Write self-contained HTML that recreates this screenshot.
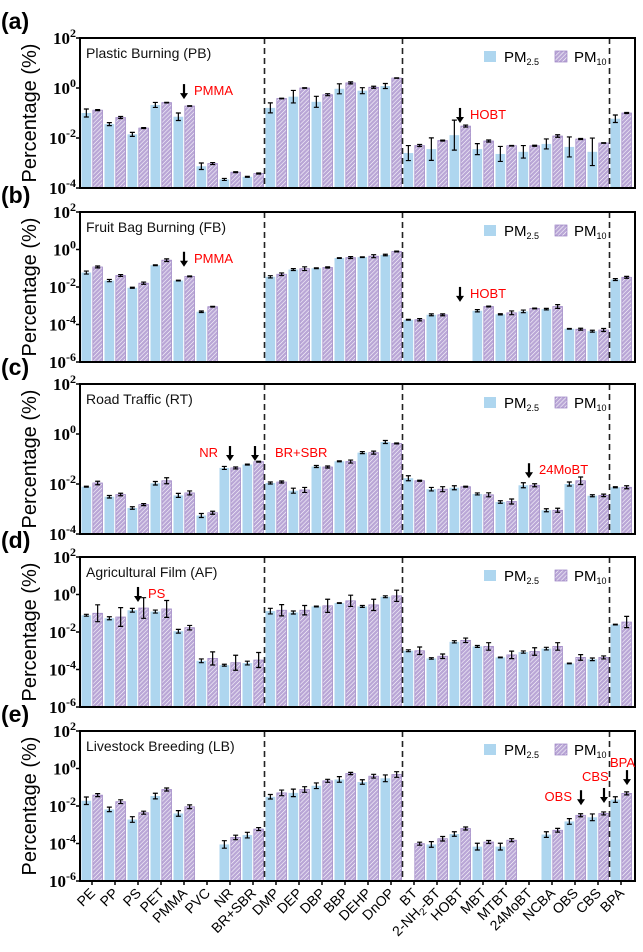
<!DOCTYPE html>
<html><head><meta charset="utf-8"><style>
body{margin:0;background:#fff;}
svg{display:block;font-family:"Liberation Sans",sans-serif;}
</style></head><body>
<svg id="chart" width="643" height="952" viewBox="0 0 643 952" xmlns="http://www.w3.org/2000/svg">
<defs>
<pattern id="hatch" patternUnits="userSpaceOnUse" width="3" height="3" patternTransform="rotate(45)">
<rect width="3" height="3" fill="#b9a6d6"/><line x1="0" y1="0" x2="0" y2="3" stroke="#fff" stroke-width="1.1"/>
</pattern>
</defs>
</svg>
<script>
const categories=["PE","PP","PS","PET","PMMA","PVC","NR","BR+SBR","DMP","DEP","DBP","BBP","DEHP","DnOP","BT","2-NH2-BT","HOBT","MBT","MTBT","24MoBT","NCBA","OBS","CBS","BPA"];
const panelTitles=["Plastic Burning (PB)","Fruit Bag Burning (FB)","Road Traffic (RT)","Agricultural Film (AF)","Livestock Breeding (LB)"];
const panelLetters=["(a)","(b)","(c)","(d)","(e)"];
const panelMinExp=[-4,-6,-4,-6,-6];
const tickExps=[2,0,-2,-4,-6];
const pbPm25=[0.1,0.036,0.014,0.21,0.071,0.00074,0.00022,0.00028,0.16,0.45,0.28,0.93,0.78,1.2,0.0025,0.0036,0.013,0.0036,0.0023,0.0028,0.0058,0.0044,0.0028,0.059];
const pbPm10=[0.13,0.066,0.025,0.26,0.19,0.00095,0.00043,0.00038,0.38,1.0,0.54,1.6,1.07,2.5,0.005,0.0079,0.03,0.0076,0.0049,0.0049,0.012,0.0091,0.0063,0.1];
const pbErr25=[0.16,0.06,0.08,0.1,0.15,0.13,0.04,0.02,0.2,0.25,0.22,0.2,0.12,0.1,0.3,0.45,0.6,0.22,0.3,0.25,0.2,0.4,0.55,0.15];
const pbErr10=[0.02,0.04,0.02,0.01,0.01,0.04,0.02,0.02,0.01,0.01,0.04,0.04,0.04,0.01,0.04,0.02,0.04,0.04,0.01,0.02,0.05,0.02,0.01,0.02];
const fbPm25=[0.059,0.022,0.0091,0.145,0.022,0.00048,null,null,0.035,0.085,0.1,0.35,0.39,0.51,0.00018,0.00033,null,0.00054,0.00035,0.0005,0.00066,0.000059,0.000044,0.025];
const fbPm10=[0.117,0.041,0.016,0.27,0.037,0.00089,null,null,0.048,0.095,0.11,0.37,0.44,0.78,0.00018,0.00033,null,0.00091,0.00042,0.00072,0.00091,0.000056,0.000051,0.033];
const fbErr25=[0.08,0.06,0.03,0.02,0.02,0.04,0,0,0.06,0.05,0.02,0.02,0.02,0.04,0.02,0.05,0,0.06,0.03,0.07,0.04,0.02,0.05,0.05];
const fbErr10=[0.05,0.05,0.06,0.07,0.02,0.02,0,0,0.07,0.1,0.03,0.05,0.08,0.02,0.06,0.05,0,0.02,0.1,0.02,0.1,0.05,0.08,0.05];
const rtPm25=[0.0078,0.0031,0.0011,0.0107,0.0035,0.00055,0.044,0.06,0.011,0.0054,0.05,0.081,0.18,0.48,0.017,0.0062,0.0071,0.004,0.0019,0.0089,0.00089,0.01,0.0034,0.0074];
const rtPm10=[0.011,0.0038,0.0015,0.0135,0.0044,0.00071,0.044,0.078,0.012,0.0058,0.048,0.079,0.18,0.42,0.0135,0.0062,0.0078,0.0037,0.002,0.0089,0.00089,0.0135,0.0035,0.0074];
const rtErr25=[0.02,0.05,0.05,0.07,0.08,0.08,0.06,0.02,0.04,0.1,0.04,0.02,0.04,0.06,0.1,0.07,0.08,0.04,0.05,0.1,0.06,0.08,0.04,0.02];
const rtErr10=[0.07,0.05,0.04,0.12,0.08,0.06,0.04,0.02,0.04,0.1,0.04,0.06,0.06,0.02,0.02,0.1,0.02,0.08,0.1,0.06,0.08,0.15,0.05,0.06];
const afPm25=[0.078,0.054,0.145,0.123,0.011,0.00029,0.00017,0.00022,0.13,0.11,0.23,0.35,0.23,0.76,0.001,0.00039,0.003,0.0017,0.00044,0.00085,0.0013,0.00021,0.00035,0.025];
const afPm10=[0.1,0.063,0.19,0.17,0.017,0.00039,0.00023,0.00032,0.145,0.145,0.25,0.46,0.28,0.85,0.001,0.00051,0.0036,0.0017,0.0006,0.00091,0.0017,0.00044,0.00044,0.034];
const afErr25=[0.05,0.08,0.1,0.08,0.1,0.1,0.05,0.1,0.15,0.08,0.02,0.02,0.05,0.05,0.05,0.04,0.06,0.05,0.02,0.06,0.07,0.02,0.07,0.02];
const afErr10=[0.45,0.5,0.55,0.45,0.12,0.35,0.4,0.4,0.3,0.25,0.35,0.3,0.3,0.3,0.2,0.12,0.12,0.2,0.2,0.2,0.2,0.15,0.08,0.3];
const lbPm25=[0.019,0.0066,0.0019,0.034,0.004,null,0.000089,0.00028,0.031,0.05,0.12,0.26,0.19,0.3,null,0.000089,0.00032,0.000068,0.000068,null,0.0003,0.0015,0.0025,0.022];
const lbPm10=[0.038,0.017,0.0044,0.076,0.0091,null,0.00021,0.00059,0.05,0.076,0.22,0.54,0.39,0.48,0.000098,0.00018,0.00063,0.00012,0.00015,null,0.00051,0.0032,0.004,0.047];
const lbErr25=[0.2,0.12,0.15,0.15,0.15,0,0.2,0.15,0.12,0.2,0.15,0.15,0.12,0.18,0,0.15,0.12,0.18,0.18,0,0.15,0.15,0.18,0.15];
const lbErr10=[0.08,0.1,0.08,0.08,0.1,0,0.12,0.08,0.15,0.15,0.08,0.06,0.1,0.15,0.08,0.12,0.08,0.08,0.08,0,0.1,0.08,0.08,0.08];
const pm25Series=[pbPm25,fbPm25,rtPm25,afPm25,lbPm25];
const pm10Series=[pbPm10,fbPm10,rtPm10,afPm10,lbPm10];
const err25Series=[pbErr25,fbErr25,rtErr25,afErr25,lbErr25];
const err10Series=[pbErr10,fbErr10,rtErr10,afErr10,lbErr10];
const annotations=[
 [{cat:"PMMA",text:"PMMA",val:0.36,side:"right"},{cat:"HOBT",text:"HOBT",val:0.04,side:"right"}],
 [{cat:"PMMA",text:"PMMA",val:0.12,side:"right"},{cat:"HOBT",text:"HOBT",val:0.0016,side:"right"}],
 [{cat:"NR",text:"NR",val:0.083,side:"left"},{cat:"BR+SBR",text:"BR+SBR",val:0.083,side:"rightfar"},{cat:"24MoBT",text:"24MoBT",val:0.017,side:"right"}],
 [{cat:"PS",text:"PS",val:0.4,side:"right"}],
 [{cat:"OBS",text:"OBS",val:0.011,side:"left"},{cat:"CBS",text:"CBS",val:0.0145,side:"upleft"},{cat:"BPA",text:"BPA",val:0.13,side:"up"}]
];

const NS="http://www.w3.org/2000/svg";
const svg=document.getElementById('chart');
function mk(tag,attrs,parent){const e=document.createElementNS(NS,tag);for(const k in attrs)e.setAttribute(k,attrs[k]);(parent||svg).appendChild(e);return e;}
const plotL=80,plotR=635,catW=23,firstX=92;
const panelTops=[38,212,384,557,731];
const panelH=150;
function xCat(i){return firstX+catW*i;}
function yScale(p){const top=panelTops[p],mn=panelMinExp[p];return v=>top+(2-Math.log10(v))/(2-mn)*panelH;}

for(let p=0;p<5;p++){
 const top=panelTops[p],bot=top+panelH,ys=yScale(p);
 const g=mk('g',{});
 
 
 for(let i=0;i<categories.length;i++){
  const cx=xCat(i);
  const s=[[pm25Series[p][i],err25Series[p][i],cx-10.5,'#aed6ef'],[pm10Series[p][i],err10Series[p][i],cx+0.8,'url(#hatch)']];
  s.forEach((d,k)=>{
   if(d[0]==null)return;
   const y=ys(d[0]);
   const r=mk('rect',{x:d[2],y:y,width:9.7,height:bot-y,fill:d[3]},g);
   if(k==1){r.setAttribute('stroke','#9a82c2');r.setAttribute('stroke-width','0.7');}
   
   
   const ex=d[2]+4.85;
   const ylo=Math.min(bot,ys(Math.pow(10,Math.log10(d[0])-d[1]))),yhi=ys(Math.pow(10,Math.log10(d[0])+d[1]));
   const eb=mk('path',{d:`M${ex},${ylo}V${yhi}M${ex-2.5},${ylo}H${ex+2.5}M${ex-2.5},${yhi}H${ex+2.5}`,stroke:'#000','stroke-width':1.2,fill:'none'},g);
   
   
  });
 }
 [7.5,13.5,22.5].forEach(b=>{
  const l=mk('line',{x1:xCat(b),x2:xCat(b),y1:top,y2:bot,stroke:'#222','stroke-width':1.6,'stroke-dasharray':'6,4'},g);
  
  
 });
 const fr=mk('rect',{x:plotL,y:top,width:plotR-plotL,height:panelH,fill:'none',stroke:'#000','stroke-width':2},g);
 
 
 tickExps.filter(e=>e>=panelMinExp[p]).forEach(e=>{
  const y=ys(Math.pow(10,e));
  mk('line',{x1:plotL-4,x2:plotL,y1:y,y2:y,stroke:'#000','stroke-width':1.5},g);
  const t=mk('text',{x:76,y:y+6,'text-anchor':'end','font-family':'"Liberation Serif",serif','font-weight':'bold','font-size':17},g);
  
  
  t.appendChild(document.createTextNode('10'));
  const s=mk('tspan',{'font-size':12,dy:-7},t);s.textContent=String(e);
 });
 const yt=mk('text',{x:0,y:0,transform:`translate(36,${top+panelH/2}) rotate(-90)`,'text-anchor':'middle','font-size':20},g);
 yt.textContent='Percentage (%)';
 
 
 const pl=mk('text',{x:1,y:top-9,'font-size':23,'font-weight':'bold'},g);
 pl.textContent=panelLetters[p];
 
 
 const tt=mk('text',{x:86,y:top+20,'font-size':14,'fill':'#111'},g);
 tt.textContent=panelTitles[p];
 
 
 const lg=mk('g',{},g);
 
 
 mk('rect',{x:484,y:top+13,width:12,height:11,fill:'#aed6ef'},lg);
 const l1=mk('text',{x:504,y:top+24,'font-size':15},lg);l1.textContent='PM';
 const s1=mk('tspan',{'font-size':9,dy:3},l1);s1.textContent='2.5';
 mk('rect',{x:555,y:top+13,width:12,height:11,fill:'url(#hatch)',stroke:'#9a82c2','stroke-width':0.7},lg);
 const l2=mk('text',{x:574,y:top+24,'font-size':15},lg);l2.textContent='PM';
 const s2=mk('tspan',{'font-size':9,dy:3},l2);s2.textContent='10';
 annotations[p].forEach(a=>{
  const i=categories.indexOf(a.cat);
  let ax=xCat(i);
  if(a.cat==='BR+SBR'){ax=xCat(i)+2;}
  if(a.cat==='OBS'||a.cat==='CBS'||a.cat==='BPA'){ax=xCat(i)+6;}
  const ay=ys(a.val);
  const ag=mk('g',{},g);
  
  
  mk('line',{x1:ax,x2:ax,y1:ay-15,y2:ay-5,stroke:'#000','stroke-width':2.2},ag);
  mk('path',{d:`M${ax-4},${ay-6}L${ax+4},${ay-6}L${ax},${ay}Z`,fill:'#000'},ag);
  let tx,ty=ay-4,anc='start';
  if(a.side==='right'){tx=ax+10;}
  else if(a.side==='rightfar'){tx=ax+20;}
  else if(a.side==='left'){tx=ax-9;anc='end';}
  else if(a.side==='upleft'){tx=ax-22;ty=ay-22;}
  else {tx=ax-17;ty=ay-18;}
  if(a.cat==='NR'){tx=ax-12;}
  const t=mk('text',{x:tx,y:ty,'font-size':13,fill:'#f00','text-anchor':anc},ag);
  t.textContent=a.text;
 });
}
const bot=panelTops[4]+panelH;
categories.forEach((c,i)=>{
 const x=xCat(i);
 mk('line',{x1:x,x2:x,y1:bot,y2:bot+4,stroke:'#000','stroke-width':1.5});
 const t=mk('text',{x:0,y:0,transform:`translate(${x+4},${bot+13}) rotate(-45)`,'text-anchor':'end','font-size':14});
 
 
 if(c==='2-NH2-BT'){t.appendChild(document.createTextNode('2-NH'));const s=mk('tspan',{'font-size':10,dy:3},t);s.textContent='2';const s2=mk('tspan',{dy:-3},t);s2.textContent='-BT';}
 else t.textContent=c;
});
</script>
</body></html>
